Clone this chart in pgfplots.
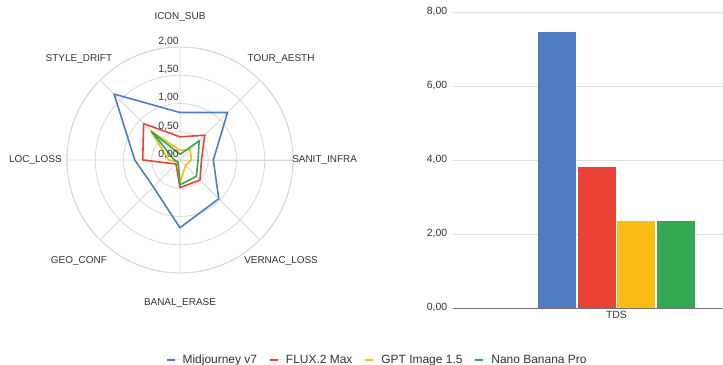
\documentclass[border=0pt]{standalone}
\usepackage{pgfplots}
\pgfplotsset{compat=1.18}
\usepgfplotslibrary{polar}
\usepackage{fontspec}
\setmainfont{Liberation Sans}
\definecolor{cBlue}{RGB}{80,124,193}
\definecolor{cRed}{RGB}{234,67,53}
\definecolor{cYel}{RGB}{249,188,21}
\definecolor{cGrn}{RGB}{52,168,83}
\definecolor{gridc}{RGB}{215,215,215}
\definecolor{txt}{RGB}{51,51,51}
\begin{document}
\begin{tikzpicture}[font=\fontsize{10}{12}\selectfont]
\useasboundingbox (0,0) rectangle (723bp,365bp);
\begin{polaraxis}[
  at={(180bp,205bp)}, anchor=center,
  width=226bp, height=226bp, scale only axis,
  ymin=0, ymax=2,
  xtick={0,45,...,315}, xticklabels={},
  ytick={0,0.5,...,2}, yticklabels={},
  grid=major, grid style={gridc, line width=0.8bp},
  axis line style={gridc, line width=0.8bp},
  major tick length=0pt,
  clip=false,
  every axis plot/.append style={line width=1.6bp, line join=round},
]
\addplot[cBlue] coordinates {(90,0.84) (45,1.19) (0,0.59) (-45,0.97) (-90,1.2) (-135,0.67) (-180,0.8) (-225,1.65) (-270,0.84)};
\addplot[cRed] coordinates {(90,0.41) (45,0.62) (0,0.38) (-45,0.5) (-90,0.49) (-135,0.1) (-180,0.66) (-225,0.91) (-270,0.41)};
\addplot[cYel] coordinates {(90,0.17) (45,0.26) (0,0.2) (-45,0.14) (-90,0.4) (-135,0.05) (-180,0.2) (-225,0.74) (-270,0.17)};
\addplot[cGrn] coordinates {(90,0.1) (45,0.48) (0,0.32) (-45,0.41) (-90,0.44) (-135,0.05) (-180,0.1) (-225,0.71) (-270,0.1)};
\node[text=txt] at (axis cs:90,2.53) {ICON\_SUB};
\node[text=txt] at (axis cs:45,2.53) {TOUR\_AESTH};
\node[text=txt] at (axis cs:0,2.56) {SANIT\_INFRA};
\node[text=txt] at (axis cs:-45,2.53) {VERNAC\_LOSS};
\node[text=txt] at (axis cs:-90,2.53) {BANAL\_ERASE};
\node[text=txt] at (axis cs:-135,2.53) {GEO\_CONF};
\node[text=txt] at (axis cs:180,2.56) {LOC\_LOSS};
\node[text=txt] at (axis cs:135,2.53) {STYLE\_DRIFT};
\begin{scope}[every node/.style={anchor=south east, inner sep=1bp, text=txt, font=\fontsize{10.5}{12}\selectfont}]
\node at (axis cs:90,2) {2,00};
\node at (axis cs:90,1.5) {1,50};
\node at (axis cs:90,1) {1,00};
\node at (axis cs:90,0.5) {0,50};
\node at (axis cs:90,0) {0,00};
\end{scope}
\end{polaraxis}
\begin{axis}[
  at={(452.7bp,57bp)}, anchor=south west,
  width=270.3bp, height=296bp, scale only axis,
  xmin=-163.8, xmax=106.5, ymin=0, ymax=8,
  ybar=1.5bp, bar width=38bp,
  xtick={0}, xticklabels={TDS},
  ytick={0,2,...,8}, ymajorgrids,
  grid style={gridc!80, line width=0.8bp},
  extra y ticks={0}, extra y tick labels={},
  extra y tick style={grid style={black!55, line width=0.9bp}},
  axis line style={draw=none},
  major tick length=0pt,
  /pgf/number format/assume math mode=true,
  yticklabel style={/pgf/number format/.cd, fixed, fixed zerofill, precision=2, use comma, /tikz/.cd, text=txt, xshift=-2bp, font=\fontsize{10.5}{12}\selectfont},
  xticklabel style={text=txt, font=\fontsize{10.5}{12}\selectfont},
  legend columns=4,
  legend style={at={(-0.278,-0.175)}, anchor=center, draw=none, fill=none, text=txt,
    font=\fontsize{12}{14}\selectfont,
    /tikz/every even column/.append style={column sep=11bp}},
  legend image code/.code={\fill (0bp,-1.2bp) rectangle (8bp,1.2bp); \path (0bp,0bp) -- (14bp,0bp);},
]
\addplot[fill=cBlue, draw=none] coordinates {(0,7.47)};
\addplot[fill=cRed, draw=none] coordinates {(0,3.82)};
\addplot[fill=cYel, draw=none] coordinates {(0,2.36)};
\addplot[fill=cGrn, draw=none] coordinates {(0,2.36)};
\legend{Midjourney v7, FLUX.2 Max, GPT Image 1.5, Nano Banana Pro}
\end{axis}
\end{tikzpicture}
\end{document}
